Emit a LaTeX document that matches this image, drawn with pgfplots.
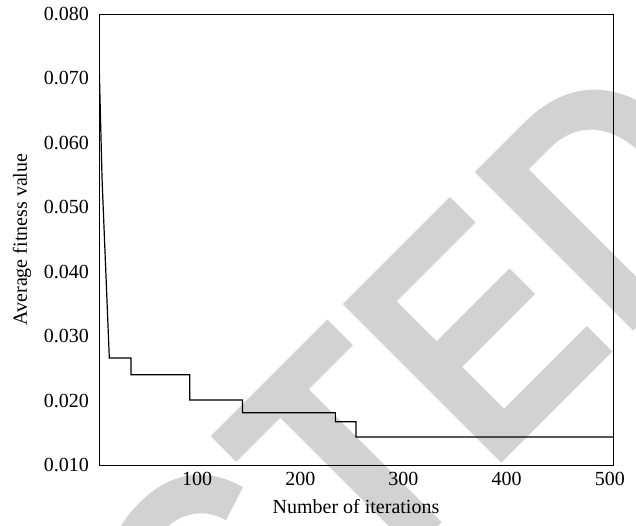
\documentclass[border=0pt]{standalone}
\usepackage{fontspec}
\setmainfont{Liberation Serif}
\newfontfamily\wmfont{Liberation Sans}
\usepackage{graphicx}
\usepackage{pgfplots}
\pgfplotsset{compat=1.18}
\begin{document}
\begin{tikzpicture}
\useasboundingbox (-49.5pt,-30pt) rectangle (268.5pt,232.5pt);
\clip (-49.5pt,-30pt) rectangle (268.5pt,232.5pt);
\node[rotate=45, anchor=base west, inner sep=0pt, text=gray!35,
      font=\wmfont\bfseries\fontsize{163}{163}\selectfont]
  at (194.25pt,-6.25pt) {\llap{\scalebox{0.86}[1]{RETRACT}}\rlap{\scalebox{0.86}[1]{ED}}};
\begin{axis}[
  at={(0,0)}, anchor=south west,
  width=257pt, height=225.5pt, scale only axis,
  xmin=5, xmax=503, ymin=0.01, ymax=0.08,
  xtick={100,200,300,400,500},
  ytick={0.01,0.02,0.03,0.04,0.05,0.06,0.07,0.08},
  scaled y ticks=false,
  /pgf/number format/assume math mode=true,
  yticklabel style={xshift=-1.5pt},
  y tick label style={/pgf/number format/.cd, fixed, fixed zerofill, precision=3, /tikz/.cd},
  major tick length=0pt,
  tick label style={font=\fontsize{10}{12}\selectfont},
  label style={font=\fontsize{10}{12}\selectfont},
  axis line style={line width=0.5pt},
  every axis x label/.style={at={(axis description cs:0.5,-0.093)},anchor=center},
  every axis y label/.style={at={(axis description cs:-0.15,0.5)},rotate=90,anchor=center},
  xlabel={Number of iterations},
  ylabel={Average fitness value},
]
\addplot[black, line width=0.6pt, mark=none] coordinates {
  (5,0.0733) (6,0.0667) (8,0.0542) (15,0.0266)
  (36,0.0266) (36,0.0240)
  (93,0.0240) (93,0.0201)
  (144,0.0201) (144,0.0181)
  (234,0.0181) (234,0.0167)
  (254,0.0167) (254,0.01435)
  (503,0.01435)
};
\end{axis}
\end{tikzpicture}
\end{document}
